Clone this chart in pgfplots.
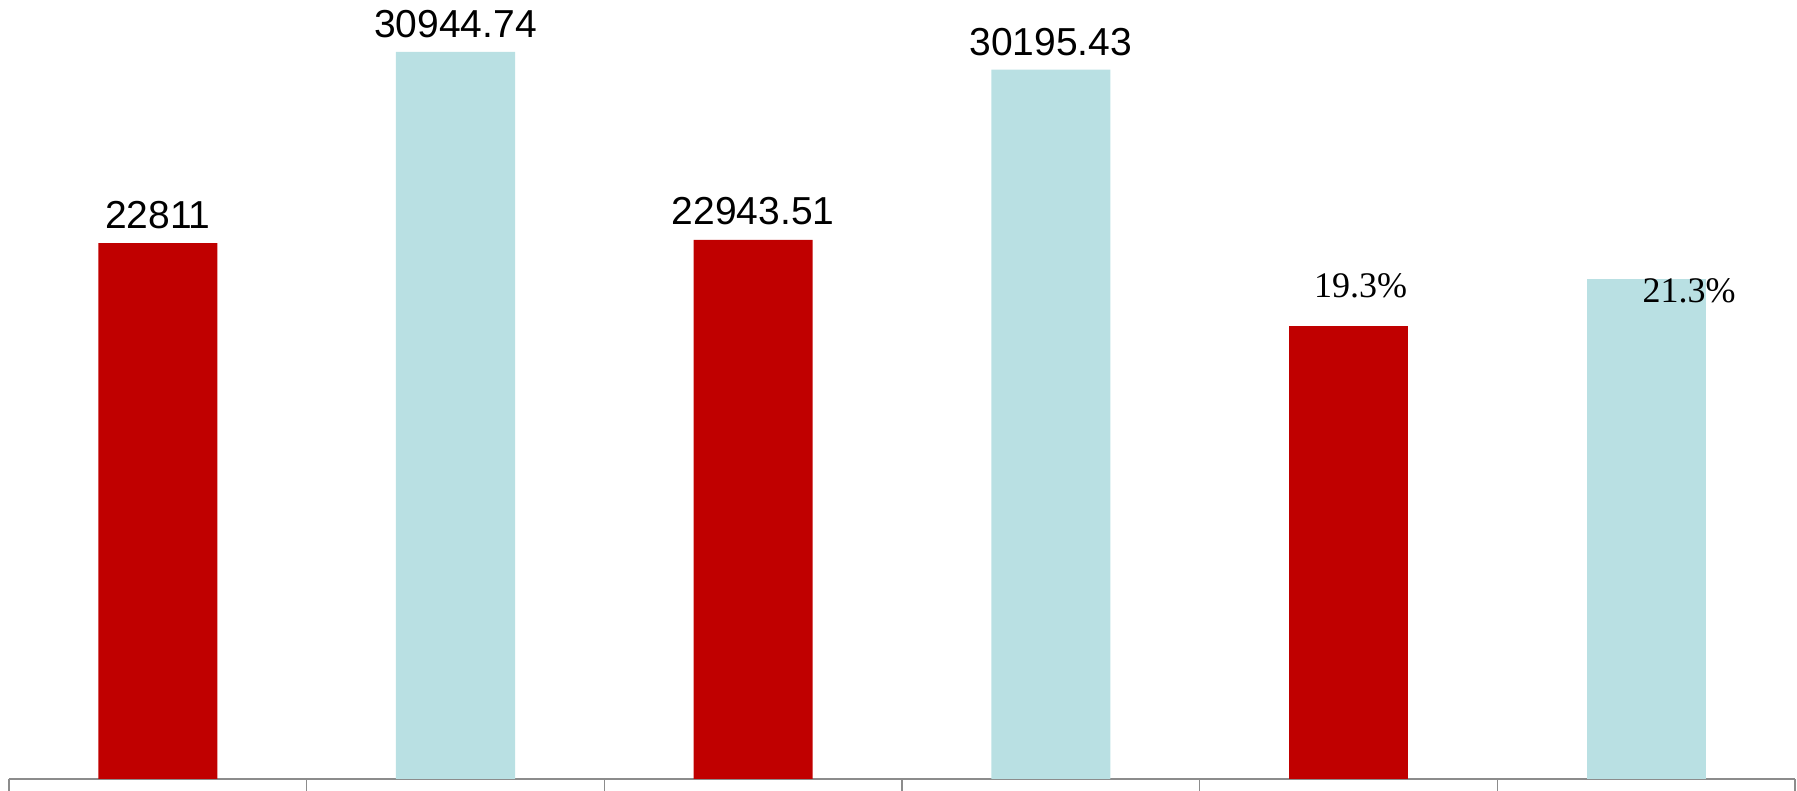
\documentclass[border=0pt]{standalone}
\usepackage{pgfplots}
\pgfplotsset{compat=1.18}
\usepackage{fontspec}
\setmainfont{Liberation Sans}
\newfontfamily\timesf{Liberation Serif}
\definecolor{barred}{HTML}{C00000}
\definecolor{barblue}{HTML}{B9E0E3}
\definecolor{axgray}{HTML}{8C8C8C}
\begin{document}
\begin{tikzpicture}
\useasboundingbox (-4.5pt,-6pt) rectangle (894pt,389.5pt);
\begin{axis}[
  at={(0,0)}, anchor=south west,
  scale only axis,
  width=893pt, height=389.5pt,
  xmin=-0.5, xmax=5.5,
  ymin=0, ymax=33155,
  axis x line*=bottom,
  axis y line=none,
  x axis line style={axgray, line width=0.9pt},
  xtick={-0.5,0.5,1.5,2.5,3.5,4.5,5.5},
  xticklabels={},
  tick align=outside,
  major tick length=6pt,
  x tick style={axgray, line width=0.8pt},
  ytick=\empty,
  clip=false,
  ybar, bar width=0.4,
  bar shift=0pt,
  /pgf/number format/assume math mode=true,
]
% red, value labels
\addplot[fill=barred, draw=none,
  point meta=explicit symbolic,
  nodes near coords,
  nodes near coords style={anchor=base, inner sep=0pt, yshift=7.5pt, font=\fontsize{19.5}{22}\selectfont, text=black}]
  coordinates {(0,22811) [22811] (2,22943.51) [22943.51]};
% blue, value labels
\addplot[fill=barblue, draw=none,
  point meta=explicit symbolic,
  nodes near coords,
  nodes near coords style={anchor=base, inner sep=0pt, yshift=7.25pt, font=\fontsize{19.5}{22}\selectfont, text=black}]
  coordinates {(1,30944.74) [30944.74] (3,30195.43) [30195.43]};
% red, percentage
\addplot[fill=barred, draw=none,
  point meta=explicit,
  nodes near coords={\pgfmathprintnumber[fixed,fixed zerofill,precision=1]{\pgfplotspointmeta}\%},
  nodes near coords style={anchor=base, inner sep=0pt, yshift=14pt, xshift=6pt, font=\timesf\fontsize{18}{21}\selectfont, text=black}]
  coordinates {(4,19300) [19.3]};
% blue, percentage
\addplot[fill=barblue, draw=none,
  point meta=explicit,
  nodes near coords={\pgfmathprintnumber[fixed,fixed zerofill,precision=1]{\pgfplotspointmeta}\%},
  nodes near coords style={anchor=base, inner sep=0pt, yshift=-12pt, xshift=21.5pt, font=\timesf\fontsize{18}{21}\selectfont, text=black}]
  coordinates {(5,21300) [21.3]};
\end{axis}
\end{tikzpicture}
\end{document}
